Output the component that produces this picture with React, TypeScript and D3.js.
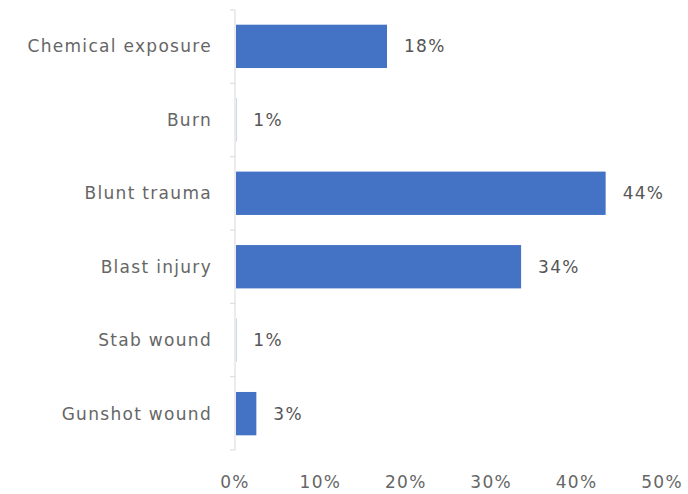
import { useEffect, useRef } from 'react';
import * as d3 from 'd3';

const categories = ['Chemical exposure', 'Burn', 'Blunt trauma', 'Blast injury', 'Stab wound', 'Gunshot wound'];
const values = [17.8, 0.15, 43.4, 33.5, 0.15, 2.5];
const valueLabels = ['18%', '1%', '44%', '34%', '1%', '3%'];
const xTicks = [0, 10, 20, 30, 40, 50];

const WIDTH = 688;
const HEIGHT = 494;
const margin = { top: 10, right: 26, bottom: 44, left: 235 };

export default function App() {
  const svgRef = useRef<SVGSVGElement>(null);

  useEffect(() => {
    if (!svgRef.current) return;
    const svg = d3.select(svgRef.current);
    svg.selectAll('*').remove();

    const font = '"DejaVu Sans", sans-serif';
    const fontSize = 17;
    const spacing = '1.3px';

    const x = d3.scaleLinear()
      .domain([0, 50])
      .range([margin.left, WIDTH - margin.right]);

    const y = d3.scaleBand<string>()
      .domain(categories)
      .range([margin.top, HEIGHT - margin.bottom])
      .paddingInner(0.41)
      .paddingOuter(0.2);

    // Bars
    svg.append('g')
      .selectAll('rect')
      .data(categories)
      .enter()
      .append('rect')
      .attr('x', x(0) + 1)
      .attr('y', (d) => y(d)!)
      .attr('width', (_, i) => Math.max(0, x(values[i]) - x(0) - 1))
      .attr('height', y.bandwidth())
      .attr('fill', '#4472C4');

    // Category axis line and ticks between categories
    const bounds = d3.range(categories.length + 1).map((i) => {
      const start = margin.top;
      const end = HEIGHT - margin.bottom;
      return start + (i * (end - start)) / categories.length;
    });

    svg.append('line')
      .attr('x1', x(0)).attr('x2', x(0))
      .attr('y1', margin.top).attr('y2', HEIGHT - margin.bottom)
      .attr('stroke', '#d9d9d9')
      .attr('stroke-width', 1);

    svg.append('g')
      .selectAll('line')
      .data(bounds)
      .enter()
      .append('line')
      .attr('x1', x(0) - 5).attr('x2', x(0))
      .attr('y1', (d) => d).attr('y2', (d) => d)
      .attr('stroke', '#d9d9d9');

    // Category labels
    svg.append('g')
      .selectAll('text')
      .data(categories)
      .enter()
      .append('text')
      .attr('x', margin.left - 23)
      .attr('y', (d) => y(d)! + y.bandwidth() / 2)
      .attr('dy', '0.35em')
      .attr('text-anchor', 'end')
      .attr('font-family', font)
      .attr('font-size', fontSize)
      .attr('letter-spacing', spacing)
      .attr('fill', '#666666')
      .text((d) => d);

    // Value labels
    svg.append('g')
      .selectAll('text')
      .data(categories)
      .enter()
      .append('text')
      .attr('x', (_, i) => x(values[i]) + 17)
      .attr('y', (d) => y(d)! + y.bandwidth() / 2)
      .attr('dy', '0.35em')
      .attr('font-family', font)
      .attr('font-size', fontSize)
      .attr('letter-spacing', spacing)
      .attr('fill', '#555555')
      .text((_, i) => valueLabels[i]);

    // X tick labels
    svg.append('g')
      .selectAll('text')
      .data(xTicks)
      .enter()
      .append('text')
      .attr('x', (d) => x(d))
      .attr('y', 482)
      .attr('dy', '0.35em')
      .attr('text-anchor', 'middle')
      .attr('font-family', font)
      .attr('font-size', fontSize)
      .attr('letter-spacing', spacing)
      .attr('fill', '#666666')
      .text((d) => `${d}%`);
  }, []);

  return (
    <div style={{ position: 'absolute', left: 0, top: 0, background: '#fff' }}>
      <svg ref={svgRef} width={WIDTH} height={HEIGHT} />
    </div>
  );
}
